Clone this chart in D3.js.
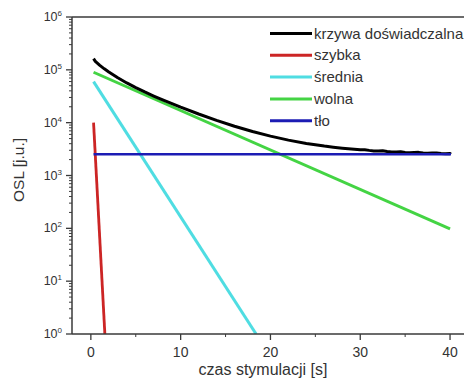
<!DOCTYPE html>
<html><head><meta charset="utf-8">
<script src="https://cdn.jsdelivr.net/npm/d3@7/dist/d3.min.js"></script>
<style>
html,body{margin:0;padding:0;background:#fff;}
svg{display:block;font-family:"Liberation Sans",Arial,sans-serif;}
</style></head>
<body>
<svg id="chart" width="464" height="380"></svg>
<script>
// ---- data ----
const blackT = [0.3,0.5,1,1.5,2,3,4,5,6,7,8,10,12,14,16,18,20,22,24,26,27,28,29,30,30.5,31,31.5,32,32.5,33,33.5,34,34.5,35,35.5,36,36.5,37,37.5,38,38.5,39,39.5,40,40.1];
const blackV = [162500,144600,121400,104500,90900,70600,56460,46030,38130,31950,27000,19630,14590,11065,8565,6806,5555,4673,4048,3602,3430,3290,3170,3060,3080,2990,2920,2910,2930,2850,2790,2800,2810,2740,2690,2720,2740,2670,2640,2660,2680,2620,2580,2610,2540];
const fastT = [0.3,1.56],  fastV = [10000,1];
const medT  = [0.3,18.4],  medV  = [59700,1];
const slowT = [0.3,40],    slowV = [90000,98];
const bgT   = [0.3,40.1],  bgV   = [2520,2520];
const legendLabels = ["krzywa doświadczalna","szybka","średnia","wolna","tło"];
const xTicks = [0,10,20,30,40];
const xMinor = [5,15,25,35];
const yExps = [0,1,2,3,4,5,6];

// ---- layout ----
const svg = d3.select("#chart");
const L = 72, T = 17, B = 334, R = 468;
const x = d3.scaleLinear().domain([-2.1,42]).range([L,R]);
const y = d3.scaleLog().domain([1,1e6]).range([B,T]);
const axisColor = "#3a3a3a", textColor = "#333";

svg.append("defs").append("clipPath").attr("id","clip")
  .append("rect").attr("x",L).attr("y",T).attr("width",R-L).attr("height",B-T);

const series = [
  {t:blackT, v:blackV, color:"#000000", w:3},
  {t:fastT,  v:fastV,  color:"#cc2525", w:2.8},
  {t:medT,   v:medV,   color:"#4fdde2", w:3},
  {t:slowT,  v:slowV,  color:"#44d444", w:3},
  {t:bgT,    v:bgV,    color:"#1c1cb4", w:2.6}
];
const line = d3.line().x(d=>x(d[0])).y(d=>y(d[1]));
const g = svg.append("g").attr("clip-path","url(#clip)");
[2,3,1,0,4].forEach(i=>{
  const s = series[i];
  g.append("path").datum(s.t.map((t,j)=>[t,s.v[j]]))
    .attr("d",line).attr("fill","none").attr("stroke",s.color)
    .attr("stroke-width",s.w).attr("stroke-linejoin","round");
});

// ---- axes ----
svg.append("line").attr("x1",L).attr("x2",R).attr("y1",T).attr("y2",T).attr("stroke",axisColor).attr("stroke-width",1.5);
svg.append("line").attr("x1",L).attr("x2",R).attr("y1",B).attr("y2",B).attr("stroke",axisColor).attr("stroke-width",1.5);
svg.append("line").attr("x1",L).attr("x2",L).attr("y1",T).attr("y2",B).attr("stroke",axisColor).attr("stroke-width",1.5);

const yMinor = [];
for (let e=0;e<6;e++) for (let m=2;m<=9;m++) yMinor.push(m*Math.pow(10,e));
svg.append("g").selectAll("line").data(yMinor).join("line")
  .attr("x1",L-3).attr("x2",L).attr("y1",d=>y(d)).attr("y2",d=>y(d))
  .attr("stroke",axisColor).attr("stroke-width",1);
svg.append("g").selectAll("line").data(yExps).join("line")
  .attr("x1",L-6).attr("x2",L).attr("y1",d=>y(Math.pow(10,d))).attr("y2",d=>y(Math.pow(10,d)))
  .attr("stroke",axisColor).attr("stroke-width",1.3);
const yl = svg.append("g").selectAll("text").data(yExps).join("text")
  .attr("x",L-10).attr("y",d=>y(Math.pow(10,d))+4)
  .attr("text-anchor","end").attr("fill",textColor).attr("font-size",12.5);
yl.append("tspan").text("10");
yl.append("tspan").attr("dy",-5).attr("font-size",8).text(d=>d);

svg.append("g").selectAll("line").data(xTicks).join("line")
  .attr("x1",d=>x(d)).attr("x2",d=>x(d)).attr("y1",B).attr("y2",B+6)
  .attr("stroke",axisColor).attr("stroke-width",1.3);
svg.append("g").selectAll("line").data(xMinor).join("line")
  .attr("x1",d=>x(d)).attr("x2",d=>x(d)).attr("y1",B).attr("y2",B+3)
  .attr("stroke",axisColor).attr("stroke-width",1);
svg.append("g").selectAll("text").data(xTicks).join("text")
  .attr("x",d=>x(d)).attr("y",357).attr("text-anchor","middle")
  .attr("fill",textColor).attr("font-size",14).text(d=>d);

svg.append("text").attr("x",263).attr("y",375).attr("text-anchor","middle")
  .attr("fill",textColor).attr("font-size",16).text("czas stymulacji [s]");
svg.append("text").attr("transform","translate(24,170) rotate(-90)").attr("text-anchor","middle")
  .attr("fill",textColor).attr("font-size",15.5).text("OSL [j.u.]");

// ---- legend ----
const lg = svg.append("g");
legendLabels.forEach((lab,i)=>{
  const yy = 33.5 + i*21.8;
  lg.append("line").attr("x1",270).attr("x2",312).attr("y1",yy).attr("y2",yy)
    .attr("stroke",series[i].color).attr("stroke-width",3);
  lg.append("text").attr("x",314).attr("y",yy+5).attr("fill",textColor)
    .attr("font-size",15).text(lab);
});
</script>
</body></html>
